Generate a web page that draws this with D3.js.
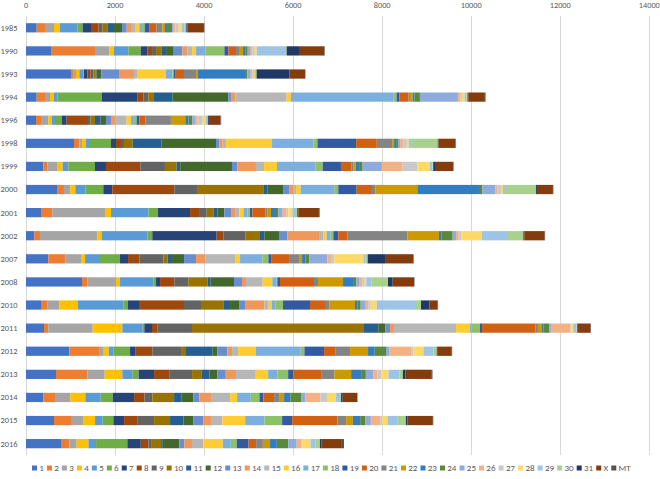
<!DOCTYPE html>
<html><head><meta charset="utf-8">
<script src="https://cdn.jsdelivr.net/npm/d3@7"></script>
<style>
body{margin:0;background:#fff;}
svg{display:block;font-family:Carlito,Calibri,"Liberation Sans",Arial,sans-serif;}
</style></head>
<body><svg id="c" width="660" height="479"></svg>
<script>
const years = ["1985","1990","1993","1994","1996","1998","1999","2000","2001","2002","2007","2008","2010","2011","2012","2013","2014","2015","2016"];
const seriesNames = ["1","2","3","4","5","6","7","8","9","10","11","12","13","14","15","16","17","18","19","20","21","22","23","24","25","26","27","28","29","30","31","X","MT"];
const xTicks = [0,2000,4000,6000,8000,10000,12000,14000];
const seriesColors = ["#4472C4","#ED7D31","#A5A5A5","#FFC000","#5B9BD5","#70AD47","#264478","#9E480E","#636363","#997300","#255E91","#43682B","#698ED0","#F1975A","#B7B7B7","#FFCD33","#7CAFDD","#8CC168","#335AA1","#D26012","#848484","#CC9A00","#327DC2","#5A8A39","#8FAADC","#F4B183","#C9C9C9","#FFD966","#9DC3E6","#A9D18E","#203864","#843C0C","#525252"];
// one row per year, values for series 1..31, X, MT
const values = [
[240,187,202,135,389,120,187,172,90,105,150,180,105,97,105,82,60,60,112,150,135,60,45,112,37,37,75,75,60,37,22,374,10],
[577,973,322,105,322,277,150,105,90,120,105,172,195,112,105,90,217,419,90,172,67,90,60,45,52,52,52,45,659,15,277,562,15],
[1011,60,52,75,90,15,75,75,60,52,22,105,397,337,82,629,150,30,45,187,270,45,1056,52,75,37,37,22,22,15,734,352,10],
[240,187,112,90,82,996,801,127,112,127,419,1250,60,97,1153,97,2298,75,60,210,30,60,45,120,853,60,30,60,45,22,15,374,15],
[225,112,165,82,90,127,112,479,60,97,127,120,112,90,262,97,67,60,60,142,569,322,75,82,60,52,120,67,37,15,22,262,15],
[1078,120,60,90,90,472,112,112,67,195,644,1228,75,75,75,1034,929,90,869,464,344,45,45,45,45,75,75,45,52,599,15,382,10],
[389,97,225,112,127,599,247,771,554,262,82,1161,120,419,180,292,869,157,411,240,37,52,97,60,434,464,329,284,60,15,60,389,10],
[711,142,142,112,225,404,202,1393,509,1490,90,367,135,82,60,105,755,90,412,344,75,944,1385,75,292,52,75,45,45,696,22,359,10],
[337,255,1198,120,839,210,726,202,172,150,90,157,150,105,82,90,97,52,52,292,52,75,90,75,97,90,37,90,82,30,22,464,15],
[187,127,1288,97,1026,112,1445,150,502,322,97,329,187,712,97,75,90,60,112,202,1348,711,60,247,75,60,60,457,569,367,22,457,10],
[502,389,345,90,314,472,180,255,539,97,97,270,270,217,659,112,502,135,60,404,225,67,75,90,404,97,60,651,45,52,389,636,10],
[1258,127,637,90,749,60,90,322,314,434,67,524,180,90,374,217,97,15,60,764,90,562,225,75,60,75,52,37,112,374,105,479,10],
[337,150,262,419,1018,97,255,1011,382,502,150,202,135,434,97,67,90,165,606,337,97,577,60,67,97,75,52,135,861,135,187,187,10],
[404,97,996,667,457,37,172,127,771,3863,322,157,105,90,1393,314,30,195,45,1205,52,90,30,135,37,442,22,37,75,15,15,284,10],
[974,667,105,112,105,374,127,374,644,112,599,105,225,105,135,397,1011,82,442,262,322,404,150,254,75,502,37,225,225,75,22,314,10],
[674,704,389,397,232,135,345,352,502,210,180,180,187,232,442,277,210,240,120,636,285,374,225,105,172,90,90,157,247,75,60,591,15],
[389,262,345,337,345,270,479,232,180,487,172,262,135,262,427,157,307,195,90,240,127,97,142,240,97,337,165,187,90,22,37,322,10],
[629,382,270,270,172,240,240,307,367,359,300,225,217,195,240,509,434,397,225,1018,195,150,165,112,127,210,45,120,232,180,37,569,10],
[787,190,161,265,171,702,303,171,76,209,38,370,114,171,256,436,180,133,265,171,152,161,152,256,190,104,19,190,114,95,38,455,47]
];

const table = years.map((y,i)=>{const o={year:y}; seriesNames.forEach((s,j)=>o[s]=values[i][j]); return o;});
const stack = d3.stack().keys(seriesNames)(table);

const svg = d3.select("#c");
const x = d3.scaleLinear().domain([0,14000]).range([26,649.3]);
const y = d3.scaleBand().domain(years).range([16.25,455.2]).paddingInner(0.6).paddingOuter(0.3);
const color = d3.scaleOrdinal().domain(seriesNames).range(seriesColors);

// gridlines
svg.append("g").selectAll("line").data(xTicks).join("line")
  .attr("x1",d=>Math.round(x(d))+0.5).attr("x2",d=>Math.round(x(d))+0.5)
  .attr("y1",16).attr("y2",455).attr("stroke","#d9d9d9").attr("stroke-width",1);

// top axis labels
svg.append("g").selectAll("text").data(xTicks).join("text")
  .attr("x",d=>x(d)).attr("y",7.5).attr("text-anchor","middle")
  .attr("font-size","8.3px").attr("fill","#595959").text(d=>d);

// bars
svg.append("g").selectAll("g").data(stack).join("g")
  .attr("fill",d=>color(d.key))
  .selectAll("rect").data(d=>d).join("rect")
  .attr("x",d=>x(d[0])).attr("width",d=>Math.max(0,x(d[1])-x(d[0])))
  .attr("y",(d)=>y(d.data.year)).attr("height",y.bandwidth());

// year labels
svg.append("g").selectAll("text").data(years).join("text")
  .attr("x",17.5).attr("y",d=>y(d)+y.bandwidth()/2).attr("dy","0.35em")
  .attr("text-anchor","end").attr("font-size","8.4px").attr("fill","#595959").text(d=>d);

// legend
const lg = svg.append("g");
const items = lg.selectAll("g").data(seriesNames).join("g");
items.append("rect").attr("width",5).attr("height",5).attr("y",-2.5).attr("fill",d=>color(d));
items.append("text").attr("x",7.3).attr("dy","0.35em").attr("font-size","9px").attr("fill","#595959").text(d=>d);
let pos=32; const offs=[];
items.each(function(){offs.push(pos); pos+=7.3+this.querySelector("text").getComputedTextLength()+3.1;});
items.attr("transform",(d,i)=>`translate(${offs[i]},468)`);
</script></body></html>
